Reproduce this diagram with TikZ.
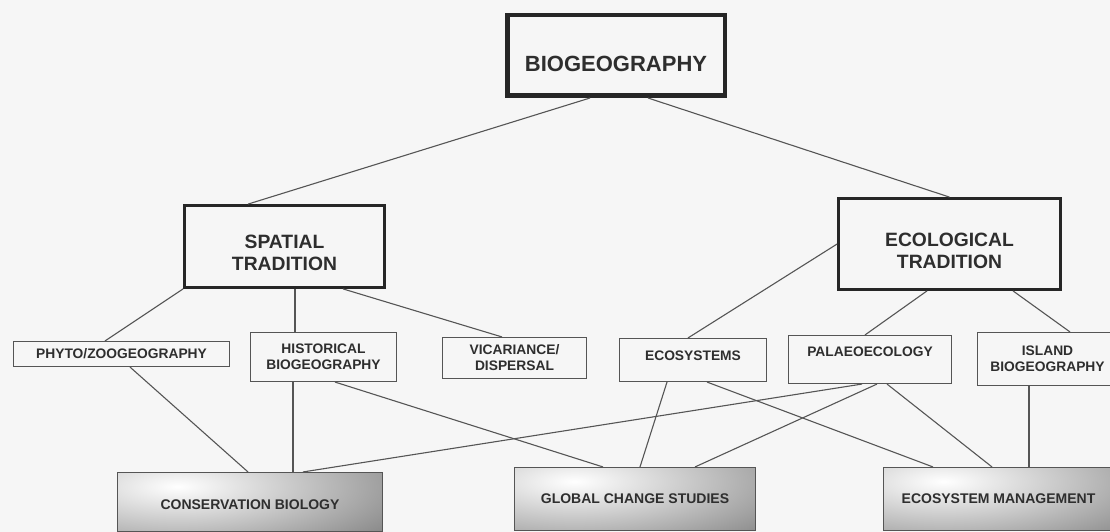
\documentclass[tikz,border=0pt]{standalone}
\usepackage{fontspec}
\setmainfont{Liberation Sans}
\usetikzlibrary{positioning}

\definecolor{inkgray}{HTML}{2E2E2E}
\definecolor{linegray}{HTML}{555555}
\definecolor{papergray}{HTML}{F6F6F6}

\begin{document}
\begin{tikzpicture}[
    x=1pt, y=-1pt,
    on grid, % positions below refer to node centres
    every node/.style={text=inkgray, inner sep=0pt, align=center},
    topic/.style={draw=black!85, line width=4.5pt, font={\fontsize{22}{24}\selectfont\bfseries}},
    tradition/.style={draw=black!85, line width=2.8pt, font={\fontsize{19.3}{22}\selectfont\bfseries}},
    field/.style={draw=linegray, line width=1.1pt, font={\fontsize{13.8}{16}\selectfont\bfseries}},
    result/.style={draw=linegray, line width=1.1pt, font={\fontsize{14}{16}\selectfont\bfseries},
      path picture={\shade[inner color=white, outer color=gray!95]
        ([xshift=60pt, yshift=-14pt]path picture bounding box.north west)
        ellipse [x radius=260pt, y radius=80pt];}},
    link/.style={draw=linegray, line width=1.1pt},
  ]

  \fill[papergray] (0,0) rectangle (1110,532);
  \useasboundingbox (0,0) rectangle (1110,532);
  \clip (0,0) rectangle (1110,532);

  % top and the two traditions
  \node[topic, minimum width=217.5pt, minimum height=80.5pt, text height=32.8pt, text depth=0pt] (bio) at (616,55.5) {BIOGEOGRAPHY};
  \node[tradition, minimum width=200pt, minimum height=82pt, text height=48.8pt, text depth=0pt,
    below left=191pt and 331.5pt of bio] (spatial) {SPATIAL\\TRADITION};
  \node[tradition, minimum width=222pt, minimum height=91pt, text height=48.8pt, text depth=0pt,
    below right=188.5pt and 333.5pt of bio] (ecol) {ECOLOGICAL\\TRADITION};

  % fields
  \node[field, minimum width=216pt, minimum height=25pt, below left=107.5pt and 163pt of spatial] (phyto) {PHYTO/ZOOGEOGRAPHY};
  \node[field, minimum width=146pt, minimum height=49pt, below right=110.5pt and 39pt of spatial] (hist) {HISTORICAL\\BIOGEOGRAPHY};
  \node[field, minimum width=144pt, minimum height=41pt, below right=111.5pt and 230pt of spatial] (vic) {VICARIANCE/\\DISPERSAL};
  \node[field, minimum width=147pt, minimum height=43pt, text height=9.9pt, text depth=8pt,
    below left=116pt and 256.5pt of ecol] (ecosys) {ECOSYSTEMS};
  \node[field, minimum width=163pt, minimum height=48pt, text height=9.9pt, text depth=15.9pt,
    below left=115.5pt and 79.5pt of ecol] (palaeo) {PALAEOECOLOGY};
  \node[field, minimum width=140pt, minimum height=53pt, below right=115pt and 98pt of ecol] (island) {ISLAND\\BIOGEOGRAPHY};

  % applications
  \node[result, minimum width=265pt, minimum height=59pt, text height=15.9pt, text depth=0pt,
    below right=148pt and 128.5pt of phyto] (cons) {CONSERVATION BIOLOGY};
  \node[result, minimum width=241pt, minimum height=63pt, below left=139pt and 58pt of ecosys] (global) {GLOBAL CHANGE STUDIES};
  \node[result, minimum width=230pt, minimum height=63pt, below right=139.5pt and 128.5pt of palaeo] (ecoman) {ECOSYSTEM MANAGEMENT};

  \draw[link] ([xshift=-26pt]bio.south) -- ([xshift=-36.5pt]spatial.north);
  \draw[link] ([xshift=32pt]bio.south) -- (ecol.north);
  \draw[link] (spatial.south west) -- ([xshift=-16.5pt]phyto.north);
  \draw[link] ([xshift=10.5pt]spatial.south) -- ([xshift=-28.5pt]hist.north);
  \draw[link] ([xshift=58.5pt]spatial.south) -- ([xshift=-12.5pt]vic.north);
  \draw[link] (ecol.west) -- ([xshift=-5pt]ecosys.north);
  \draw[link] ([xshift=-22.5pt]ecol.south) -- ([xshift=-5pt]palaeo.north);
  \draw[link] ([xshift=63.5pt]ecol.south) -- ([xshift=22.5pt]island.north);
  \draw[link] ([xshift=8.5pt]phyto.south) -- ([xshift=-2pt]cons.north);
  \draw[link] ([xshift=-30.5pt]hist.south) -- ([xshift=43pt]cons.north);
  \draw[link] ([xshift=11.5pt]hist.south) -- ([xshift=-32pt]global.north);
  \draw[link] ([xshift=-8pt]palaeo.south) -- ([xshift=53pt]cons.north);
  \draw[link] ([xshift=-26pt]ecosys.south) -- ([xshift=5pt]global.north);
  \draw[link] ([xshift=7pt]palaeo.south) -- ([xshift=60pt]global.north);
  \draw[link] ([xshift=14pt]ecosys.south) -- ([xshift=-65.5pt]ecoman.north);
  \draw[link] ([xshift=17pt]palaeo.south) -- ([xshift=-6.5pt]ecoman.north);
  \draw[link] ([xshift=-18.5pt]island.south) -- ([xshift=30.5pt]ecoman.north);

\end{tikzpicture}
\end{document}
